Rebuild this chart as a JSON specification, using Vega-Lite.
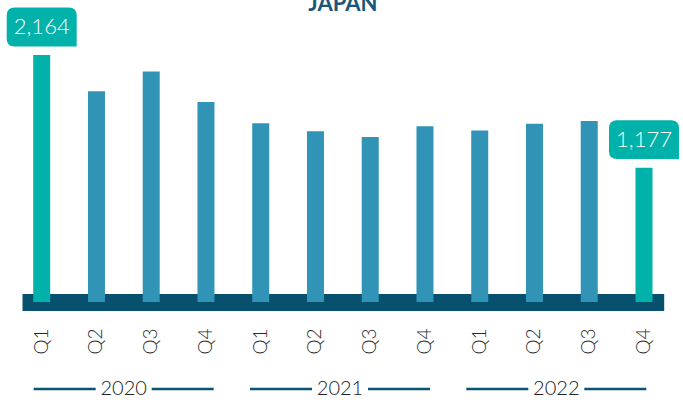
{
  "$schema": "https://vega.github.io/schema/vega-lite/v6.json",
  "padding": {"left": 6, "top": -7, "right": 0, "bottom": 0},
  "background": "white",
  "spacing": 24,
  "config": {"view": {"stroke": null}, "font": "Lato"},
  "datasets": {
    "quarters": [
      {"period": "2020-Q1", "year": "2020", "quarter": "Q1", "value": 2164, "kind": "endpoint"},
      {"period": "2020-Q2", "year": "2020", "quarter": "Q2", "value": 1845, "kind": "normal"},
      {"period": "2020-Q3", "year": "2020", "quarter": "Q3", "value": 2020, "kind": "normal"},
      {"period": "2020-Q4", "year": "2020", "quarter": "Q4", "value": 1751, "kind": "normal"},
      {"period": "2021-Q1", "year": "2021", "quarter": "Q1", "value": 1565, "kind": "normal"},
      {"period": "2021-Q2", "year": "2021", "quarter": "Q2", "value": 1495, "kind": "normal"},
      {"period": "2021-Q3", "year": "2021", "quarter": "Q3", "value": 1445, "kind": "normal"},
      {"period": "2021-Q4", "year": "2021", "quarter": "Q4", "value": 1539, "kind": "normal"},
      {"period": "2022-Q1", "year": "2022", "quarter": "Q1", "value": 1503, "kind": "normal"},
      {"period": "2022-Q2", "year": "2022", "quarter": "Q2", "value": 1561, "kind": "normal"},
      {"period": "2022-Q3", "year": "2022", "quarter": "Q3", "value": 1585, "kind": "normal"},
      {"period": "2022-Q4", "year": "2022", "quarter": "Q4", "value": 1177, "kind": "endpoint"}
    ],
    "years": [
      {"year": "2020"},
      {"year": "2021"},
      {"year": "2022"}
    ]
  },
  "vconcat": [
    {
      "width": 641.7,
      "height": 274,
      "data": {"name": "quarters"},
      "title": {
        "text": "JAPAN",
        "color": "#1b5878",
        "fontSize": 22,
        "fontWeight": "bold",
        "font": "Lato",
        "anchor": "middle",
        "frame": "group",
        "baseline": "alphabetic",
        "offset": -26
      },
      "encoding": {
        "x": {
          "field": "period",
          "type": "nominal",
          "sort": null,
          "scale": {"paddingInner": 0.28, "paddingOuter": 0},
          "axis": {
            "title": null,
            "labelExpr": "split(datum.value, '-')[1]",
            "labelAngle": -90,
            "labelFontSize": 19,
            "labelFont": "Lato",
            "labelFontWeight": 300,
            "labelColor": "#2b2b2b",
            "labelPadding": 26,
            "ticks": false,
            "domainColor": "#07506e",
            "domainWidth": 17,
            "domainCap": "butt",
            "zindex": 0
          }
        },
        "y": {
          "field": "value",
          "type": "quantitative",
          "scale": {"domain": [0, 2400], "nice": false},
          "axis": null
        }
      },
      "layer": [
        {
          "mark": {"type": "bar", "width": 17},
          "encoding": {
            "color": {
              "field": "kind",
              "type": "nominal",
              "scale": {"domain": ["endpoint", "normal"], "range": ["#00b2a9", "#3194b6"]},
              "legend": null
            }
          }
        },
        {
          "transform": [{"filter": "datum.kind === 'endpoint'"}],
          "mark": {
            "type": "point",
            "shape": "M-1,-0.327 Q-1,-0.557 -0.77,-0.557 L0.77,-0.557 Q1,-0.557 1,-0.327 L1,0.557 L-0.77,0.557 Q-1,0.557 -1,0.327 Z",
            "size": 4900,
            "filled": true,
            "opacity": 1,
            "color": "#00b2a9",
            "strokeWidth": 0,
            "yOffset": -28
          }
        },
        {
          "transform": [{"filter": "datum.kind === 'endpoint'"}],
          "mark": {
            "type": "text",
            "color": "white",
            "font": "Lato",
            "fontSize": 22,
            "fontWeight": 300,
            "baseline": "middle",
            "align": "center",
            "yOffset": -28
          },
          "encoding": {
            "text": {"field": "value", "type": "quantitative", "format": ","}
          }
        }
      ]
    },
    {
      "width": 636,
      "height": 20,
      "data": {"name": "years"},
      "encoding": {
        "x": {"field": "year", "type": "nominal", "scale": {"paddingInner": 0.168, "paddingOuter": 0.054}, "axis": null}
      },
      "layer": [
        {
          "mark": {"type": "tick", "orient": "horizontal", "size": 62, "thickness": 2.5, "color": "#0a5574", "opacity": 1, "xOffset": -59}
        },
        {
          "mark": {"type": "tick", "orient": "horizontal", "size": 62, "thickness": 2.5, "color": "#0a5574", "opacity": 1, "xOffset": 59}
        },
        {
          "mark": {"type": "text", "font": "Lato", "fontSize": 20, "fontWeight": 300, "color": "#222222", "baseline": "middle", "align": "center"},
          "encoding": {
            "text": {"field": "year", "type": "nominal"}
          }
        }
      ]
    }
  ]
}
